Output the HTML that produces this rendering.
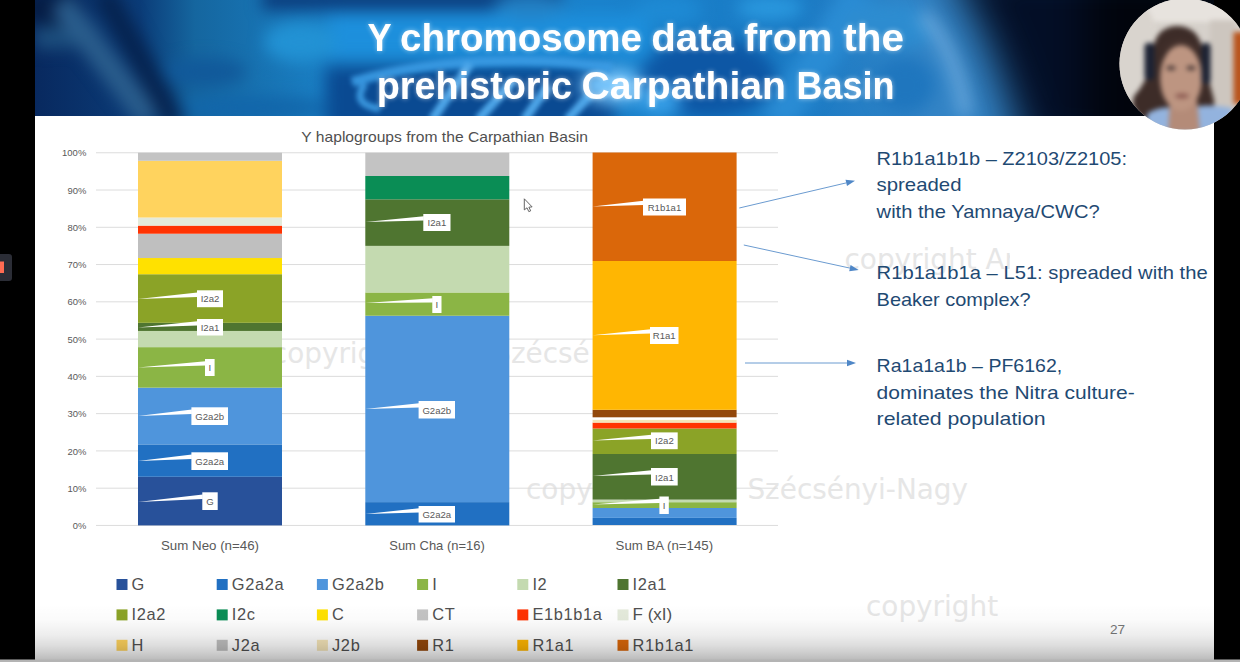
<!DOCTYPE html>
<html lang="en"><head><meta charset="utf-8"><title>Y chromosome data from the prehistoric Carpathian Basin</title>
<style>
html,body{margin:0;padding:0;background:#000;}
body{width:1240px;height:662px;overflow:hidden;position:relative;font-family:"Liberation Sans",sans-serif;}
svg{position:absolute;left:0;top:0;display:block}
</style></head><body>
<svg width="1240" height="662" viewBox="0 0 1240 662">
<defs>
<linearGradient id="hb" x1="0" x2="1" y1="0" y2="0"><stop offset="0.0000" stop-color="#08295f"/><stop offset="0.0891" stop-color="#0b3c78"/><stop offset="0.1357" stop-color="#15669f"/><stop offset="0.2502" stop-color="#1a80c6"/><stop offset="0.4792" stop-color="#1a82cc"/><stop offset="0.6489" stop-color="#1a7ac4"/><stop offset="0.7591" stop-color="#3384c6"/><stop offset="1.0000" stop-color="#3384c6"/></linearGradient>
<linearGradient id="bot" x1="0" x2="0" y1="0" y2="1"><stop offset="0.000" stop-color="#000" stop-opacity="0"/><stop offset="0.286" stop-color="#000" stop-opacity="0.018"/><stop offset="0.554" stop-color="#000" stop-opacity="0.07"/><stop offset="0.732" stop-color="#000" stop-opacity="0.13"/><stop offset="0.857" stop-color="#000" stop-opacity="0.19"/><stop offset="1.000" stop-color="#000" stop-opacity="0.27"/></linearGradient>
<filter color-interpolation-filters="sRGB" id="bl8" x="-20%" y="-50%" width="140%" height="200%"><feGaussianBlur stdDeviation="8"/></filter>
<filter color-interpolation-filters="sRGB" id="bl14" x="-20%" y="-50%" width="140%" height="200%"><feGaussianBlur stdDeviation="14"/></filter>
<filter color-interpolation-filters="sRGB" id="bl22" x="-30%" y="-60%" width="160%" height="220%"><feGaussianBlur stdDeviation="20"/></filter>
<filter color-interpolation-filters="sRGB" id="glow" x="-5%" y="-20%" width="110%" height="140%"><feGaussianBlur in="SourceGraphic" stdDeviation="2.5" result="b"/><feComponentTransfer in="b" result="b2"><feFuncA type="linear" slope="0.5"/></feComponentTransfer><feMerge><feMergeNode in="b2"/><feMergeNode in="SourceGraphic"/></feMerge></filter>
<filter color-interpolation-filters="sRGB" id="bl5" x="-20%" y="-40%" width="140%" height="180%"><feGaussianBlur stdDeviation="4"/></filter>
<filter color-interpolation-filters="sRGB" id="bl3" x="-20%" y="-20%" width="140%" height="140%"><feGaussianBlur stdDeviation="2.5"/></filter>
<clipPath id="hdr"><rect x="35" y="0" width="1179" height="116"/></clipPath>
<clipPath id="cam"><circle cx="1185" cy="64" r="65.5"/></clipPath>
<clipPath id="wm1"><rect x="270" y="330" width="321" height="50"/></clipPath>
<clipPath id="wm2"><rect x="840" y="235" width="170" height="50"/></clipPath>
<clipPath id="wm3"><rect x="860" y="585" width="145" height="50"/></clipPath>
</defs>
<rect x="0" y="0" width="1240" height="662" fill="#000"/>
<!-- slide -->
<rect x="35" y="0" width="1179" height="660" fill="#fff"/>
<!-- header image -->
<g clip-path="url(#hdr)">
 <rect x="35" y="0" width="1179" height="116" fill="url(#hb)"/>
 <g filter="url(#bl8)">
  <rect x="330" y="14" width="320" height="44" fill="#1d8fdc"/>
  <rect x="325" y="66" width="290" height="64" fill="#0a4a92"/>
  <ellipse cx="250" cy="108" rx="80" ry="12" fill="#1266aa"/>
  <rect x="262" y="-12" width="300" height="22" fill="#0b3c7c"/>
  <ellipse cx="530" cy="6" rx="36" ry="12" fill="#2380c4"/>
  <ellipse cx="52" cy="8" rx="30" ry="18" fill="#051c44"/>
  <ellipse cx="205" cy="72" rx="42" ry="14" fill="#11599a"/>
  <ellipse cx="300" cy="42" rx="36" ry="20" fill="#2292d4"/>
  <ellipse cx="612" cy="86" rx="32" ry="17" fill="#78c6fc"/>
  <ellipse cx="708" cy="78" rx="68" ry="40" fill="#0d57a5"/>
  <path d="M775 124 L862 -8" stroke="#2a8cd4" stroke-width="36" fill="none"/>
  <ellipse cx="770" cy="8" rx="34" ry="12" fill="#2a98de"/>
  <ellipse cx="905" cy="85" rx="30" ry="28" fill="#1f76be"/>
  <ellipse cx="668" cy="10" rx="34" ry="14" fill="#1e8ad4"/>
  <ellipse cx="890" cy="26" rx="48" ry="24" fill="#2d8cd0"/>
  <ellipse cx="660" cy="100" rx="22" ry="14" fill="#38a0e8"/>
  <path d="M35 38 L98 36" stroke="#1d4f7e" stroke-width="22" fill="none"/>
  <path d="M60 2 L101 56 L150 120" stroke="#2a5d8c" stroke-width="24" fill="none"/>
  <path d="M103 -8 L176 124" stroke="#06234f" stroke-width="22" fill="none"/>
  <path d="M922 14 Q958 50 966 116" stroke="#62a4da" stroke-width="15" fill="none"/>
 </g>
 <g filter="url(#bl3)" opacity="0.92">
  <path d="M352 82 Q420 62 500 61 Q560 59 612 68" stroke="#3a9be4" stroke-width="10" fill="none"/>
  <path d="M432 120 L470 64 M478 120 L514 80 M524 120 L548 86 M567 120 L591 94" stroke="#54aef0" stroke-width="9" fill="none"/>
  <path d="M365 84 Q350 104 380 109" stroke="#3f9fe6" stroke-width="7" fill="none"/>
 </g>
 <g filter="url(#bl22)">
  <path d="M940 -40 Q996 40 1024 156 L1270 156 L1270 -40 Z" fill="#030e26"/>
  <rect x="1085" y="-40" width="200" height="200" fill="#01040c"/>
 </g>
</g>
<!-- title -->
<g font-family="Liberation Sans, sans-serif" font-weight="700" font-size="39.5" fill="#fff" filter="url(#glow)">
<text y="51.3"><tspan x="367.5" textLength="23.5" lengthAdjust="spacingAndGlyphs">Y</tspan> <tspan x="400" textLength="242.0" lengthAdjust="spacingAndGlyphs">chromosome</tspan> <tspan x="651.2" textLength="82.8" lengthAdjust="spacingAndGlyphs">data</tspan> <tspan x="744" textLength="88.5" lengthAdjust="spacingAndGlyphs">from</tspan> <tspan x="843.3" textLength="60.7" lengthAdjust="spacingAndGlyphs">the</tspan></text>
<text y="99.2"><tspan x="376.8" textLength="195.2" lengthAdjust="spacingAndGlyphs">prehistoric</tspan> <tspan x="581.5" textLength="204.5" lengthAdjust="spacingAndGlyphs">Carpathian</tspan> <tspan x="796.5" textLength="98.0" lengthAdjust="spacingAndGlyphs">Basin</tspan></text>
</g>
<g clip-path="url(#wm1)"><text x="271.8" y="363.3" font-family="DejaVu Sans, Verdana, sans-serif" font-size="27.9" fill="#e6e6e6">copyright Anna Szécsényi-Nagy</text></g>
<text x="526" y="498.7" font-family="DejaVu Sans, Verdana, sans-serif" font-size="27.9" fill="#e6e6e6">copyright Anna Szécsényi-Nagy</text>
<g clip-path="url(#wm2)"><text x="844.5" y="268.5" font-family="DejaVu Sans, Verdana, sans-serif" font-size="27.9" fill="#e6e6e6">copyright Anna Szécsényi-Nagy</text></g>
<g clip-path="url(#wm3)"><text x="866" y="616" font-family="DejaVu Sans, Verdana, sans-serif" font-size="27.9" fill="#e6e6e6">copyright Anna Szécsényi-Nagy</text></g>
<line x1="96" x2="778" y1="525.45" y2="525.45" stroke="#dcdcdc" stroke-width="1"/>
<line x1="96" x2="778" y1="488.18" y2="488.18" stroke="#dcdcdc" stroke-width="1"/>
<line x1="96" x2="778" y1="450.91" y2="450.91" stroke="#dcdcdc" stroke-width="1"/>
<line x1="96" x2="778" y1="413.64" y2="413.64" stroke="#dcdcdc" stroke-width="1"/>
<line x1="96" x2="778" y1="376.37" y2="376.37" stroke="#dcdcdc" stroke-width="1"/>
<line x1="96" x2="778" y1="339.10" y2="339.10" stroke="#dcdcdc" stroke-width="1"/>
<line x1="96" x2="778" y1="301.83" y2="301.83" stroke="#dcdcdc" stroke-width="1"/>
<line x1="96" x2="778" y1="264.56" y2="264.56" stroke="#dcdcdc" stroke-width="1"/>
<line x1="96" x2="778" y1="227.29" y2="227.29" stroke="#dcdcdc" stroke-width="1"/>
<line x1="96" x2="778" y1="190.02" y2="190.02" stroke="#dcdcdc" stroke-width="1"/>
<line x1="96" x2="778" y1="152.75" y2="152.75" stroke="#dcdcdc" stroke-width="1"/>
<rect x="138" y="476.79" width="144" height="48.61" fill="#28519a"/>
<rect x="138" y="444.38" width="144" height="32.41" fill="#2170c2"/>
<rect x="138" y="387.66" width="144" height="56.72" fill="#4f95dc"/>
<rect x="138" y="347.15" width="144" height="40.51" fill="#8bb545"/>
<rect x="138" y="330.95" width="144" height="16.20" fill="#c4dab0"/>
<rect x="138" y="322.85" width="144" height="8.10" fill="#4f7530"/>
<rect x="138" y="274.23" width="144" height="48.61" fill="#8ba327"/>
<rect x="138" y="258.03" width="144" height="16.20" fill="#ffe100"/>
<rect x="138" y="233.72" width="144" height="24.31" fill="#bfbfbf"/>
<rect x="138" y="225.62" width="144" height="8.10" fill="#ff3302"/>
<rect x="138" y="217.52" width="144" height="8.10" fill="#e4eadb"/>
<rect x="138" y="160.80" width="144" height="56.72" fill="#ffd35e"/>
<rect x="138" y="152.70" width="144" height="8.10" fill="#c3c3c3"/>
<rect x="365.3" y="502.11" width="144" height="23.29" fill="#2170c2"/>
<rect x="365.3" y="315.76" width="144" height="186.35" fill="#4f95dc"/>
<rect x="365.3" y="292.46" width="144" height="23.29" fill="#8bb545"/>
<rect x="365.3" y="245.88" width="144" height="46.59" fill="#c4dab0"/>
<rect x="365.3" y="199.29" width="144" height="46.59" fill="#4f7530"/>
<rect x="365.3" y="175.99" width="144" height="23.29" fill="#0a8d55"/>
<rect x="365.3" y="152.70" width="144" height="23.29" fill="#c3c3c3"/>
<rect x="592.6" y="517.90" width="144" height="7.10" fill="#2170c2"/>
<rect x="592.6" y="508.00" width="144" height="9.90" fill="#4f95dc"/>
<rect x="592.6" y="502.20" width="144" height="5.80" fill="#8bb545"/>
<rect x="592.6" y="499.60" width="144" height="2.60" fill="#c4dab0"/>
<rect x="592.6" y="454.00" width="144" height="45.60" fill="#4f7530"/>
<rect x="592.6" y="428.50" width="144" height="25.50" fill="#8ba327"/>
<rect x="592.6" y="422.60" width="144" height="5.90" fill="#ff3302"/>
<rect x="592.6" y="419.60" width="144" height="3.00" fill="#f4e4b8"/>
<rect x="592.6" y="417.30" width="144" height="2.30" fill="#ffffff"/>
<rect x="592.6" y="409.80" width="144" height="7.50" fill="#93480b"/>
<rect x="592.6" y="261.00" width="144" height="148.80" fill="#ffb602"/>
<rect x="592.6" y="152.50" width="144" height="108.50" fill="#da670a"/>
<polygon points="197.5,292.6 197.5,296.90000000000003 138,299" fill="#fff"/>
<rect x="197" y="290.3" width="26.0" height="16.9" fill="#fff"/>
<text x="210.0" y="302.4" font-family="Liberation Sans, sans-serif" font-size="9.9" fill="#595959" text-anchor="middle" lengthAdjust="spacingAndGlyphs" textLength="18.7">I2a2</text>
<polygon points="197.5,321.3 197.5,325.6 138,327.5" fill="#fff"/>
<rect x="197" y="319" width="26.0" height="16.5" fill="#fff"/>
<text x="210.0" y="330.7" font-family="Liberation Sans, sans-serif" font-size="9.9" fill="#595959" text-anchor="middle" lengthAdjust="spacingAndGlyphs" textLength="18.7">I2a1</text>
<polygon points="205.5,361.3 205.5,365.6 138,367.5" fill="#fff"/>
<rect x="205" y="359" width="9.6" height="17.0" fill="#fff"/>
<text x="209.8" y="371.2" font-family="Liberation Sans, sans-serif" font-size="9.9" fill="#595959" text-anchor="middle" lengthAdjust="spacingAndGlyphs" textLength="2.7">I</text>
<polygon points="191.9,409.6 191.9,413.90000000000003 138,416" fill="#fff"/>
<rect x="191.4" y="407.3" width="36.6" height="17.7" fill="#fff"/>
<text x="209.7" y="420.2" font-family="Liberation Sans, sans-serif" font-size="9.9" fill="#595959" text-anchor="middle" lengthAdjust="spacingAndGlyphs" textLength="28.8">G2a2b</text>
<polygon points="191.9,454.6 191.9,458.90000000000003 138,461" fill="#fff"/>
<rect x="191.4" y="452.3" width="36.6" height="17.7" fill="#fff"/>
<text x="209.7" y="465.2" font-family="Liberation Sans, sans-serif" font-size="9.9" fill="#595959" text-anchor="middle" lengthAdjust="spacingAndGlyphs" textLength="28.8">G2a2a</text>
<polygon points="202.8,494.6 202.8,498.90000000000003 138,502" fill="#fff"/>
<rect x="202.3" y="492.3" width="15.4" height="17.7" fill="#fff"/>
<text x="210.0" y="505.2" font-family="Liberation Sans, sans-serif" font-size="9.9" fill="#595959" text-anchor="middle" lengthAdjust="spacingAndGlyphs" textLength="7.5">G</text>
<polygon points="423.8,216.3 423.8,220.6 365.3,222" fill="#fff"/>
<rect x="423.3" y="214" width="27.2" height="17.0" fill="#fff"/>
<text x="436.9" y="226.2" font-family="Liberation Sans, sans-serif" font-size="9.9" fill="#595959" text-anchor="middle" lengthAdjust="spacingAndGlyphs" textLength="18.7">I2a1</text>
<polygon points="432.8,298.3 432.8,302.6 365.3,303" fill="#fff"/>
<rect x="432.3" y="296" width="9.2" height="17.0" fill="#fff"/>
<text x="436.9" y="308.2" font-family="Liberation Sans, sans-serif" font-size="9.9" fill="#595959" text-anchor="middle" lengthAdjust="spacingAndGlyphs" textLength="2.7">I</text>
<polygon points="419.1,403.3 419.1,407.6 365.3,409" fill="#fff"/>
<rect x="418.6" y="401" width="36.4" height="17.5" fill="#fff"/>
<text x="436.8" y="413.7" font-family="Liberation Sans, sans-serif" font-size="9.9" fill="#595959" text-anchor="middle" lengthAdjust="spacingAndGlyphs" textLength="28.8">G2a2b</text>
<polygon points="419.1,508.3 419.1,512.6 365.3,514" fill="#fff"/>
<rect x="418.6" y="506" width="36.4" height="16.5" fill="#fff"/>
<text x="436.8" y="517.7" font-family="Liberation Sans, sans-serif" font-size="9.9" fill="#595959" text-anchor="middle" lengthAdjust="spacingAndGlyphs" textLength="28.8">G2a2a</text>
<polygon points="643.5,200.8 643.5,205.1 592.6,206.5" fill="#fff"/>
<rect x="643" y="198.5" width="43.0" height="17.0" fill="#fff"/>
<text x="664.5" y="210.7" font-family="Liberation Sans, sans-serif" font-size="9.9" fill="#595959" text-anchor="middle" lengthAdjust="spacingAndGlyphs" textLength="33.6">R1b1a1</text>
<polygon points="650.5,329.3 650.5,333.6 592.6,335.2" fill="#fff"/>
<rect x="650" y="327" width="28.5" height="17.0" fill="#fff"/>
<text x="664.2" y="339.2" font-family="Liberation Sans, sans-serif" font-size="9.9" fill="#595959" text-anchor="middle" lengthAdjust="spacingAndGlyphs" textLength="22.9">R1a1</text>
<polygon points="651.5,434.7 651.5,439.0 592.6,440.5" fill="#fff"/>
<rect x="651" y="432.4" width="26.7" height="16.8" fill="#fff"/>
<text x="664.4" y="444.4" font-family="Liberation Sans, sans-serif" font-size="9.9" fill="#595959" text-anchor="middle" lengthAdjust="spacingAndGlyphs" textLength="18.7">I2a2</text>
<polygon points="651.5,470.3 651.5,474.6 592.6,476" fill="#fff"/>
<rect x="651" y="468" width="26.7" height="17.5" fill="#fff"/>
<text x="664.4" y="480.7" font-family="Liberation Sans, sans-serif" font-size="9.9" fill="#595959" text-anchor="middle" lengthAdjust="spacingAndGlyphs" textLength="18.7">I2a1</text>
<polygon points="659.9,498.8 659.9,503.1 592.6,504.5" fill="#fff"/>
<rect x="659.4" y="496.5" width="9.4" height="17.5" fill="#fff"/>
<text x="664.1" y="509.2" font-family="Liberation Sans, sans-serif" font-size="9.9" fill="#595959" text-anchor="middle" lengthAdjust="spacingAndGlyphs" textLength="2.7">I</text>
<text x="86.3" y="529.0" font-family="Liberation Sans, sans-serif" font-size="9.7" fill="#595959" text-anchor="end" lengthAdjust="spacingAndGlyphs" textLength="13.5">0%</text>
<text x="86.3" y="491.7" font-family="Liberation Sans, sans-serif" font-size="9.7" fill="#595959" text-anchor="end" lengthAdjust="spacingAndGlyphs" textLength="18.9">10%</text>
<text x="86.3" y="454.5" font-family="Liberation Sans, sans-serif" font-size="9.7" fill="#595959" text-anchor="end" lengthAdjust="spacingAndGlyphs" textLength="18.9">20%</text>
<text x="86.3" y="417.2" font-family="Liberation Sans, sans-serif" font-size="9.7" fill="#595959" text-anchor="end" lengthAdjust="spacingAndGlyphs" textLength="18.9">30%</text>
<text x="86.3" y="379.9" font-family="Liberation Sans, sans-serif" font-size="9.7" fill="#595959" text-anchor="end" lengthAdjust="spacingAndGlyphs" textLength="18.9">40%</text>
<text x="86.3" y="342.6" font-family="Liberation Sans, sans-serif" font-size="9.7" fill="#595959" text-anchor="end" lengthAdjust="spacingAndGlyphs" textLength="18.9">50%</text>
<text x="86.3" y="305.4" font-family="Liberation Sans, sans-serif" font-size="9.7" fill="#595959" text-anchor="end" lengthAdjust="spacingAndGlyphs" textLength="18.9">60%</text>
<text x="86.3" y="268.1" font-family="Liberation Sans, sans-serif" font-size="9.7" fill="#595959" text-anchor="end" lengthAdjust="spacingAndGlyphs" textLength="18.9">70%</text>
<text x="86.3" y="230.8" font-family="Liberation Sans, sans-serif" font-size="9.7" fill="#595959" text-anchor="end" lengthAdjust="spacingAndGlyphs" textLength="18.9">80%</text>
<text x="86.3" y="193.6" font-family="Liberation Sans, sans-serif" font-size="9.7" fill="#595959" text-anchor="end" lengthAdjust="spacingAndGlyphs" textLength="18.9">90%</text>
<text x="86.3" y="156.3" font-family="Liberation Sans, sans-serif" font-size="9.7" fill="#595959" text-anchor="end" lengthAdjust="spacingAndGlyphs" textLength="24.2">100%</text>
<text x="301.3" y="142.4" font-family="Liberation Sans, sans-serif" font-size="14.3" fill="#505050" textLength="286.6" lengthAdjust="spacingAndGlyphs">Y haplogroups from the Carpathian Basin</text>
<text x="210" y="549.5" font-family="Liberation Sans, sans-serif" font-size="12.2" fill="#595959" text-anchor="middle" textLength="98" lengthAdjust="spacingAndGlyphs">Sum Neo (n=46)</text>
<text x="437" y="549.5" font-family="Liberation Sans, sans-serif" font-size="12.2" fill="#595959" text-anchor="middle" textLength="95.5" lengthAdjust="spacingAndGlyphs">Sum Cha (n=16)</text>
<text x="664.3" y="549.5" font-family="Liberation Sans, sans-serif" font-size="12.2" fill="#595959" text-anchor="middle" textLength="97.5" lengthAdjust="spacingAndGlyphs">Sum BA (n=145)</text>
<rect x="116.5" y="579.0" width="11" height="11" fill="#28519a"/>
<text x="131.6" y="590.0" font-family="Liberation Sans, sans-serif" font-size="16.4" fill="#505050" letter-spacing="0.66">G</text>
<rect x="216.7" y="579.0" width="11" height="11" fill="#2170c2"/>
<text x="231.8" y="590.0" font-family="Liberation Sans, sans-serif" font-size="16.4" fill="#505050" letter-spacing="0.66">G2a2a</text>
<rect x="316.9" y="579.0" width="11" height="11" fill="#4f95dc"/>
<text x="332.0" y="590.0" font-family="Liberation Sans, sans-serif" font-size="16.4" fill="#505050" letter-spacing="0.66">G2a2b</text>
<rect x="417.1" y="579.0" width="11" height="11" fill="#8bb545"/>
<text x="432.2" y="590.0" font-family="Liberation Sans, sans-serif" font-size="16.4" fill="#505050" letter-spacing="0.66">I</text>
<rect x="517.3" y="579.0" width="11" height="11" fill="#c4dab0"/>
<text x="532.4" y="590.0" font-family="Liberation Sans, sans-serif" font-size="16.4" fill="#505050" letter-spacing="0.66">I2</text>
<rect x="617.5" y="579.0" width="11" height="11" fill="#4f7530"/>
<text x="632.6" y="590.0" font-family="Liberation Sans, sans-serif" font-size="16.4" fill="#505050" letter-spacing="0.66">I2a1</text>
<rect x="116.5" y="609.4" width="11" height="11" fill="#8ba327"/>
<text x="131.6" y="620.4" font-family="Liberation Sans, sans-serif" font-size="16.4" fill="#505050" letter-spacing="0.66">I2a2</text>
<rect x="216.7" y="609.4" width="11" height="11" fill="#0a8d55"/>
<text x="231.8" y="620.4" font-family="Liberation Sans, sans-serif" font-size="16.4" fill="#505050" letter-spacing="0.66">I2c</text>
<rect x="316.9" y="609.4" width="11" height="11" fill="#ffe100"/>
<text x="332.0" y="620.4" font-family="Liberation Sans, sans-serif" font-size="16.4" fill="#505050" letter-spacing="0.66">C</text>
<rect x="417.1" y="609.4" width="11" height="11" fill="#c3c3c3"/>
<text x="432.2" y="620.4" font-family="Liberation Sans, sans-serif" font-size="16.4" fill="#505050" letter-spacing="0.66">CT</text>
<rect x="517.3" y="609.4" width="11" height="11" fill="#ff3302"/>
<text x="532.4" y="620.4" font-family="Liberation Sans, sans-serif" font-size="16.4" fill="#505050" letter-spacing="0.66">E1b1b1a</text>
<rect x="617.5" y="609.4" width="11" height="11" fill="#e4eadb"/>
<text x="632.6" y="620.4" font-family="Liberation Sans, sans-serif" font-size="16.4" fill="#505050" textLength="39.6" lengthAdjust="spacingAndGlyphs">F (xI)</text>
<rect x="116.5" y="639.8" width="11" height="11" fill="#ffd35e"/>
<text x="131.6" y="650.8" font-family="Liberation Sans, sans-serif" font-size="16.4" fill="#505050" letter-spacing="0.66">H</text>
<rect x="216.7" y="639.8" width="11" height="11" fill="#bfbfbf"/>
<text x="231.8" y="650.8" font-family="Liberation Sans, sans-serif" font-size="16.4" fill="#505050" letter-spacing="0.66">J2a</text>
<rect x="316.9" y="639.8" width="11" height="11" fill="#f4e4b8"/>
<text x="332.0" y="650.8" font-family="Liberation Sans, sans-serif" font-size="16.4" fill="#505050" letter-spacing="0.66">J2b</text>
<rect x="417.1" y="639.8" width="11" height="11" fill="#93480b"/>
<text x="432.2" y="650.8" font-family="Liberation Sans, sans-serif" font-size="16.4" fill="#505050" letter-spacing="0.66">R1</text>
<rect x="517.3" y="639.8" width="11" height="11" fill="#ffb602"/>
<text x="532.4" y="650.8" font-family="Liberation Sans, sans-serif" font-size="16.4" fill="#505050" letter-spacing="0.66">R1a1</text>
<rect x="617.5" y="639.8" width="11" height="11" fill="#da670a"/>
<text x="632.6" y="650.8" font-family="Liberation Sans, sans-serif" font-size="16.4" fill="#505050" letter-spacing="0.66">R1b1a1</text>
<line x1="739.3" y1="208" x2="846.2" y2="182.9" stroke="#6b9bd0" stroke-width="1"/>
<polygon points="855,180.8 847.0,186.0 845.5,179.7" fill="#4f87c7"/>
<line x1="743.8" y1="245" x2="849.9" y2="268.1" stroke="#6b9bd0" stroke-width="1"/>
<polygon points="858.7,270 849.2,271.2 850.6,265.0" fill="#4f87c7"/>
<line x1="745" y1="363" x2="847.0" y2="363.0" stroke="#6b9bd0" stroke-width="1"/>
<polygon points="856,363 847.0,366.2 847.0,359.8" fill="#4f87c7"/>
<text x="876.6" y="164.7" font-family="Liberation Sans, sans-serif" font-size="18.6" fill="#1f4a73" textLength="250.4" lengthAdjust="spacingAndGlyphs">R1b1a1b1b – Z2103/Z2105:</text>
<text x="876.6" y="190.8" font-family="Liberation Sans, sans-serif" font-size="18.6" fill="#1f4a73" textLength="84.9" lengthAdjust="spacingAndGlyphs">spreaded</text>
<text x="876.6" y="217.8" font-family="Liberation Sans, sans-serif" font-size="18.6" fill="#1f4a73" textLength="223.1" lengthAdjust="spacingAndGlyphs">with the Yamnaya/CWC?</text>
<text x="876.6" y="278.8" font-family="Liberation Sans, sans-serif" font-size="18.6" fill="#1f4a73" textLength="331.1" lengthAdjust="spacingAndGlyphs">R1b1a1b1a – L51: spreaded with the</text>
<text x="876.6" y="305.5" font-family="Liberation Sans, sans-serif" font-size="18.6" fill="#1f4a73" textLength="154.0" lengthAdjust="spacingAndGlyphs">Beaker complex?</text>
<text x="876.6" y="372" font-family="Liberation Sans, sans-serif" font-size="18.6" fill="#1f4a73" textLength="185.6" lengthAdjust="spacingAndGlyphs">Ra1a1a1b – PF6162,</text>
<text x="876.6" y="398.5" font-family="Liberation Sans, sans-serif" font-size="18.6" fill="#1f4a73" textLength="258.1" lengthAdjust="spacingAndGlyphs">dominates the Nitra culture-</text>
<text x="876.6" y="425" font-family="Liberation Sans, sans-serif" font-size="18.6" fill="#1f4a73" textLength="169.1" lengthAdjust="spacingAndGlyphs">related population</text>
<path d="M524.3 198.8 L524.3 209.9 L527 207.8 L528.8 211.6 L530.7 210.8 L528.9 207.2 L532.1 206.9 Z" fill="#fff" stroke="#555" stroke-width="0.9" stroke-linejoin="round"/>
<text x="1110" y="633.9" font-family="Liberation Sans, sans-serif" font-size="13.6" fill="#777">27</text>
<!-- bottom fade -->
<rect x="35" y="604" width="1179" height="56" fill="url(#bot)"/>
<rect x="0" y="659.5" width="1240" height="3" fill="#b4b4b4"/>
<!-- side widget -->
<rect x="-4" y="254" width="16" height="27" rx="3" fill="#2b2d36"/>
<rect x="-2" y="261.5" width="6" height="11.5" fill="#ff6b52"/>
<!-- webcam -->
<g clip-path="url(#cam)">
 <rect x="1115" y="-5" width="130" height="140" fill="#d6d1cb"/>
 <g filter="url(#bl3)">
  <rect x="1110" y="-8" width="140" height="30" fill="#e7e3de"/>
  <path d="M1110 -8 L1140 -8 L1160 34 L1150 130 L1110 130 Z" fill="#d9d4ce"/>
  <rect x="1210" y="20" width="26" height="100" fill="#cdc6bf"/>
  <rect x="1233.5" y="32" width="12" height="72" fill="#b9541c"/>
  <path d="M1152 60 Q1152 26 1178 26 Q1203 27 1204 62 L1214 100 Q1216 118 1200 124 L1150 124 Q1128 112 1134 96 Q1146 84 1152 60 Z" fill="#3d2c28"/>
  <path d="M1148 113 Q1165 104 1182 110 Q1205 102 1232 108 L1236 140 L1140 140 Z" fill="#93b3de"/>
  <path d="M1170 100 L1197 100 L1200 132 L1168 132 Z" fill="#b48b78"/>
  <ellipse cx="1181" cy="78" rx="21" ry="33" fill="#bd9581"/>
  <path d="M1160 52 Q1180 34 1201 52 Q1196 42 1180 40 Q1166 42 1160 52 Z" fill="#4a3530"/>
  <rect x="1144.5" y="43" width="10" height="37" rx="4" fill="#1c2233"/>
  <rect x="1201.5" y="43" width="9" height="41" rx="4" fill="#1c2233"/>
  <ellipse cx="1171" cy="68" rx="4.5" ry="2.2" fill="#4a3a38"/>
  <ellipse cx="1191" cy="68" rx="4.5" ry="2.2" fill="#4a3a38"/>
  <ellipse cx="1182" cy="96" rx="7" ry="2.5" fill="#8c5a52"/>
 </g>
</g>
</svg>
</body></html>
